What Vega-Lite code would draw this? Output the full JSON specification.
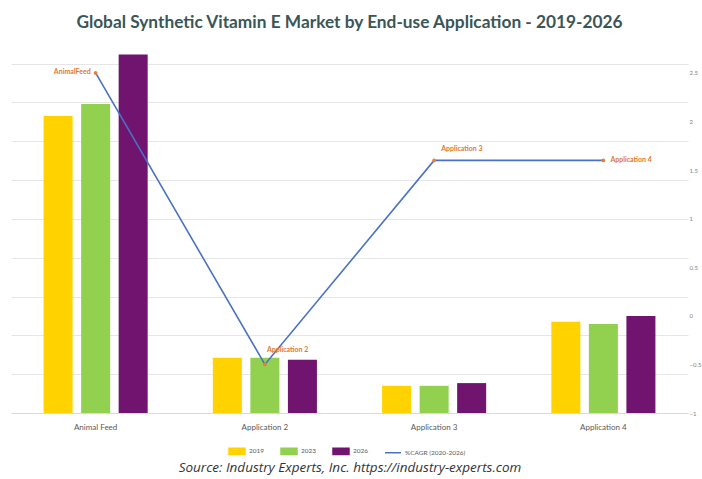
{
  "$schema": "https://vega.github.io/schema/vega-lite/v6.json",
  "width": 677,
  "height": 365,
  "autosize": {"type": "none"},
  "padding": {"left": 11, "top": 48, "right": 14, "bottom": 66},
  "background": "white",
  "title": {
    "text": "Global Synthetic Vitamin E Market by End-use Application - 2019-2026",
    "font": "Lato",
    "fontSize": 17.3,
    "fontWeight": "bold",
    "color": "#3a5656",
    "anchor": "middle",
    "offset": 17
  },
  "config": {
    "view": {"stroke": null},
    "font": "Lato"
  },
  "datasets": {
    "bars": [
      {"category": "Animal Feed", "series": "2019", "value": 7.65},
      {"category": "Animal Feed", "series": "2023", "value": 7.96},
      {"category": "Animal Feed", "series": "2026", "value": 9.23},
      {"category": "Application 2", "series": "2019", "value": 1.42},
      {"category": "Application 2", "series": "2023", "value": 1.42},
      {"category": "Application 2", "series": "2026", "value": 1.37},
      {"category": "Application 3", "series": "2019", "value": 0.7},
      {"category": "Application 3", "series": "2023", "value": 0.7},
      {"category": "Application 3", "series": "2026", "value": 0.77},
      {"category": "Application 4", "series": "2019", "value": 2.35},
      {"category": "Application 4", "series": "2023", "value": 2.29},
      {"category": "Application 4", "series": "2026", "value": 2.5}
    ],
    "cagr": [
      {"category": "Animal Feed", "series": "%CAGR (2020-2026)", "cagr": 2.5, "label": "AnimalFeed"},
      {"category": "Application 2", "series": "%CAGR (2020-2026)", "cagr": -0.5, "label": "Application 2"},
      {"category": "Application 3", "series": "%CAGR (2020-2026)", "cagr": 1.6, "label": "Application 3"},
      {"category": "Application 4", "series": "%CAGR (2020-2026)", "cagr": 1.6, "label": "Application 4"}
    ]
  },
  "encoding": {
    "x": {
      "field": "category",
      "type": "nominal",
      "sort": ["Animal Feed", "Application 2", "Application 3", "Application 4"],
      "scale": {"paddingInner": 0.385, "paddingOuter": 0.1925},
      "axis": {
        "labelAngle": 0,
        "labelFontSize": 8,
        "labelColor": "#595959",
        "labelPadding": 10,
        "ticks": false,
        "domainColor": "#d9d9d9",
        "title": "Source: Industry Experts, Inc. https://industry-experts.com",
        "titleFont": "Open Sans",
        "titleFontSize": 13.5,
        "titleFontStyle": "italic",
        "titleFontWeight": "normal",
        "titleColor": "#333333",
        "titlePadding": 29
      }
    }
  },
  "layer": [
    {
      "data": {"name": "bars"},
      "mark": {"type": "bar"},
      "encoding": {
        "xOffset": {
          "field": "series",
          "type": "nominal",
          "sort": ["2019", "2023", "2026"],
          "scale": {"paddingInner": 0.227, "paddingOuter": 0}
        },
        "y": {
          "field": "value",
          "type": "quantitative",
          "scale": {"domain": [0, 9.4], "nice": false, "zero": true},
          "axis": {
            "values": [0, 1, 2, 3, 4, 5, 6, 7, 8, 9],
            "labels": false,
            "ticks": false,
            "domain": false,
            "title": null,
            "gridColor": "#e6e6e6",
            "gridWidth": 1
          }
        },
        "color": {
          "field": "series",
          "type": "nominal",
          "scale": {
            "domain": ["2019", "2023", "2026", "%CAGR (2020-2026)"],
            "range": ["#ffd200", "#92d050", "#701470", "#4a72c4"]
          },
          "legend": {
            "title": null,
            "orient": "none",
            "direction": "horizontal",
            "legendX": 217,
            "legendY": 394,
            "labelFontSize": 6.5,
            "labelColor": "#595959",
            "symbolSize": 256,
            "columnPadding": 13,
            "labelOffset": 3,
            "encode": {
              "symbols": {
                "update": {
                  "shape": {"signal": "datum.value === '%CAGR (2020-2026)' ? 'M-1,0H1' : 'M-1,-0.4H1V0.4H-1Z'"},
                  "stroke": {"signal": "datum.value === '%CAGR (2020-2026)' ? '#4a72c4' : 'transparent'"},
                  "strokeWidth": {"value": 1.5},
                  "fill": {"signal": "datum.value === '%CAGR (2020-2026)' ? 'transparent' : scale('color', datum.value)"},
                  "fillOpacity": {"value": 1}
                }
              }
            }
          }
        }
      }
    },
    {
      "data": {"name": "cagr"},
      "encoding": {
        "y": {
          "field": "cagr",
          "type": "quantitative",
          "scale": {"domain": [-1, 2.757], "nice": false, "zero": false},
          "axis": {
            "orient": "right",
            "values": [-1, -0.5, 0, 0.5, 1, 1.5, 2, 2.5],
            "format": "~g",
            "grid": false,
            "ticks": false,
            "domain": false,
            "title": null,
            "labelFontSize": 6,
            "labelColor": "#7f7f7f",
            "labelPadding": 1
          }
        }
      },
      "layer": [
        {
          "mark": {"type": "line", "strokeWidth": 1.6},
          "encoding": {
            "color": {"field": "series", "type": "nominal"}
          }
        },
        {
          "mark": {"type": "point", "filled": true, "color": "#ed7d31", "size": 14, "opacity": 1},
          "encoding": {}
        },
        {
          "transform": [{"filter": "datum.category === 'Animal Feed'"}],
          "mark": {"type": "text", "align": "right", "baseline": "middle", "dx": -5, "dy": -1, "fontSize": 7, "fontWeight": "bold", "color": "#e0782f"},
          "encoding": {"text": {"field": "label"}}
        },
        {
          "transform": [{"filter": "datum.category === 'Application 2'"}],
          "mark": {"type": "text", "align": "left", "baseline": "middle", "dx": 2, "dy": -14, "fontSize": 7, "fontWeight": "bold", "color": "#e0782f"},
          "encoding": {"text": {"field": "label"}}
        },
        {
          "transform": [{"filter": "datum.category === 'Application 3'"}],
          "mark": {"type": "text", "align": "left", "baseline": "middle", "dx": 7, "dy": -11, "fontSize": 7, "fontWeight": "bold", "color": "#e0782f"},
          "encoding": {"text": {"field": "label"}}
        },
        {
          "transform": [{"filter": "datum.category === 'Application 4'"}],
          "mark": {"type": "text", "align": "left", "baseline": "middle", "dx": 7, "dy": 0, "fontSize": 7, "fontWeight": "bold", "color": "#e0782f"},
          "encoding": {"text": {"field": "label"}}
        }
      ]
    }
  ],
  "resolve": {"scale": {"y": "independent"}}
}
